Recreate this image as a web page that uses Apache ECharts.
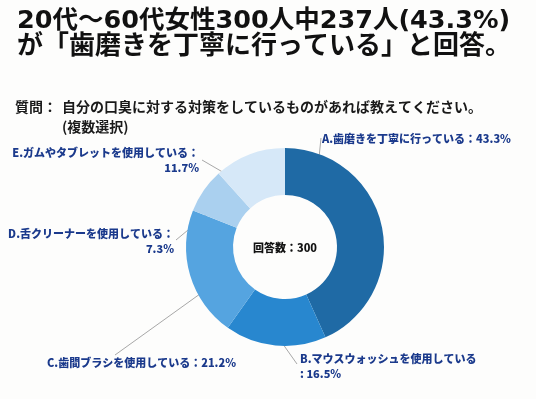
<!DOCTYPE html>
<html>
<head>
<meta charset="utf-8">
<script src="https://cdn.jsdelivr.net/npm/echarts@6/dist/echarts.min.js"></script>
<style>
html,body{margin:0;padding:0;background:#fdfdfc;}
#main{width:536px;height:399px;}
</style>
</head>
<body>
<div id="main"></div>
<script>
// ---- data ----
const categories = [
  'A.歯磨きを丁寧に行っている',
  'B.マウスウォッシュを使用している',
  'C.歯間ブラシを使用している',
  'D.舌クリーナーを使用している',
  'E.ガムやタブレットを使用している'
];
const values = [43.3, 16.5, 21.2, 7.3, 11.7];
const separators = ['：', '\n: ', '：', '：\n', '：\n'];
const titleLines = ['20代～60代女性300人中237人(43.3%)', 'が「歯磨きを丁寧に行っている」と回答。'];
const questionLabel = '質問：';
const questionLines = ['自分の口臭に対する対策をしているものがあれば教えてください。', '(複数選択)'];
const centerText = '回答数：300';

// ---- layout (annotation placement only) ----
const CX = 285, CY = 247;
const colors = ['#1f6aa5', '#2887cf', '#55a4e0', '#aad0ef', '#d6e8f8'];
const labelLayouts = [
  {x: 322, y: 139, align: 'left',  start: [24.6, 77], end: [321, 138]},
  {x: 300, y: 366, align: 'left',  start: [197, 73],  end: [297, 364]},
  {x: 47,  y: 363, align: 'left',  start: [241.7, 89], end: [115, 355]},
  {x: 174, y: 241, align: 'right', start: [295, 83],  end: [176, 240]},
  {x: 199, y: 160, align: 'right', start: [322, 90],  end: [202, 160]}
];

const chart = echarts.init(document.getElementById('main'), null, {renderer: 'canvas'});
const JP = "'Noto Sans CJK JP', 'Noto Sans', sans-serif";
const TITLE_FONT = "'DejaVu Sans', 'Noto Sans CJK JP', sans-serif";

function polar(a, r) {
  const t = a * Math.PI / 180;
  return [CX + r * Math.sin(t), CY - r * Math.cos(t)];
}

chart.setOption({
  backgroundColor: '#fdfdfc',
  animation: false,
  title: [
    {
      text: '{a|' + titleLines[0] + '}\n{b|' + titleLines[1] + '}',
      left: 17, top: 8, padding: 0,
      textStyle: {
        rich: {
          a: {fontSize: 25.5, fontWeight: 'bold', color: '#111', lineHeight: 26, fontFamily: TITLE_FONT},
          b: {fontSize: 26, fontWeight: 'bold', color: '#111', lineHeight: 26, fontFamily: TITLE_FONT}
        }
      }
    },
    {
      text: questionLabel,
      left: 15, top: 97, padding: 0,
      textStyle: {fontSize: 14, fontWeight: 'bold', color: '#1a1a1a', lineHeight: 20, fontFamily: JP}
    },
    {
      text: questionLines.join('\n'),
      left: 62, top: 97, padding: 0,
      textStyle: {fontSize: 14, fontWeight: 'bold', color: '#1a1a1a', lineHeight: 20, fontFamily: JP}
    }
  ],
  graphic: [{
    type: 'text', x: CX, y: CY + 1,
    style: {text: centerText, align: 'center', verticalAlign: 'middle',
      fill: '#111', font: "900 11px 'Noto Sans CJK JP', sans-serif"}
  }],
  series: [{
    type: 'pie',
    center: [CX, CY],
    radius: [52, 99],
    startAngle: 90,
    clockwise: true,
    avoidLabelOverlap: false,
    silent: true,
    data: categories.map((c, i) => ({name: c, value: values[i], itemStyle: {color: colors[i]}})),
    label: {
      show: true,
      position: 'outside',
      formatter: p => p.name + separators[p.dataIndex] + p.value + '%',
      color: '#1b3a8c',
      fontSize: 11,
      fontWeight: 900,
      lineHeight: 15,
      fontFamily: JP
    },
    labelLine: {show: true, length: 10, length2: 0, lineStyle: {color: '#a8a8a8', width: 1}},
    labelLayout: function (params) {
      const L = labelLayouts[params.dataIndex];
      return {
        x: L.x, y: L.y, align: L.align, verticalAlign: 'middle',
        labelLinePoints: [polar(L.start[0], L.start[1]), L.end]
      };
    }
  }]
});
</script>
</body>
</html>
